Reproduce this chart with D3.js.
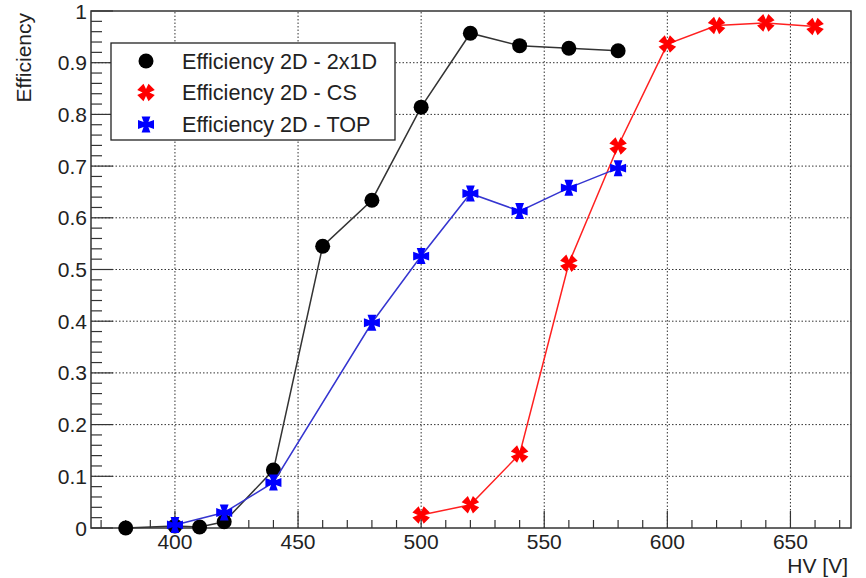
<!DOCTYPE html>
<meta charset="utf-8">
<script src="https://cdn.jsdelivr.net/npm/d3@7"></script>
<style>
body { margin: 0; background: #fff; }
text { font-family: "Liberation Sans", Arial, sans-serif; font-size: 21px; fill: #222; }
.grid line { stroke: #333; stroke-width: 1; stroke-dasharray: 1.5,2; }
.frame { fill: none; stroke: #333; stroke-width: 1.5px; }
.tick { stroke: #333; stroke-width: 1.2px; }
</style>
<body>
<div id="chart"></div>
<script>
// HV points and efficiency for each configuration
var hv2x1D  = [380, 400, 410, 420, 440, 460, 480, 500, 520, 540, 560, 580];
var eff2x1D = [0.0, 0.004, 0.002, 0.012, 0.112, 0.545, 0.634, 0.814, 0.957, 0.933, 0.928, 0.923];

var hvCS  = [500, 520, 540, 560, 580, 600, 620, 640, 660];
var effCS = [0.025, 0.045, 0.143, 0.512, 0.739, 0.936, 0.972, 0.977, 0.970];

var hvTOP  = [400, 420, 440, 480, 500, 520, 540, 560, 580];
var effTOP = [0.006, 0.030, 0.088, 0.397, 0.526, 0.647, 0.613, 0.658, 0.696];

var xTicks = [400, 450, 500, 550, 600, 650];
var yTicks = [0, 0.1, 0.2, 0.3, 0.4, 0.5, 0.6, 0.7, 0.8, 0.9, 1];
var legendLabels = ["Efficiency 2D - 2x1D", "Efficiency 2D - CS", "Efficiency 2D - TOP"];

var width = 866, height = 578;
var margin = {left: 91, right: 15, top: 11, bottom: 50};

var svg = d3.select("#chart").append("svg")
    .attr("width", width)
    .attr("height", height);

var x = d3.scaleLinear().domain([365.9, 674.6]).range([margin.left, width - margin.right]);
var y = d3.scaleLinear().domain([0, 1]).range([height - margin.bottom, margin.top]);

var x0 = x.range()[0], x1 = x.range()[1];
var y0 = y.range()[0], y1 = y.range()[1];

// dotted grid at the major ticks
var grid = svg.append("g").attr("class", "grid");
grid.selectAll("line.gx")
    .data(xTicks)
    .enter().append("line")
    .attr("x1", d => x(d)).attr("x2", d => x(d))
    .attr("y1", y0).attr("y2", y1);
grid.selectAll("line.gy")
    .data(yTicks.filter(d => d > 0 && d < 1))
    .enter().append("line")
    .attr("x1", x0).attr("x2", x1)
    .attr("y1", d => y(d)).attr("y2", d => y(d));

// axis ticks (ROOT style, pointing inside)
var xMinor = d3.range(370, 675, 10);
svg.append("g").selectAll("line")
    .data(xMinor)
    .enter().append("line")
    .attr("class", "tick")
    .attr("x1", d => x(d)).attr("x2", d => x(d))
    .attr("y1", y0)
    .attr("y2", d => y0 - (d % 50 == 0 ? 17 : 8));

var yMinor = d3.range(0, 51).map(i => i * 0.02);
svg.append("g").selectAll("line")
    .data(yMinor)
    .enter().append("line")
    .attr("class", "tick")
    .attr("y1", d => y(d)).attr("y2", d => y(d))
    .attr("x1", x0)
    .attr("x2", (d, i) => x0 + (i % 5 == 0 ? 22 : 11));

svg.append("rect")
    .attr("class", "frame")
    .attr("x", x0).attr("y", y1)
    .attr("width", x1 - x0).attr("height", y0 - y1);

// tick labels
svg.append("g").selectAll("text")
    .data(xTicks)
    .enter().append("text")
    .attr("x", d => x(d))
    .attr("y", 549)
    .attr("text-anchor", "middle")
    .text(d => d);

svg.append("g").selectAll("text")
    .data(yTicks)
    .enter().append("text")
    .attr("x", 87)
    .attr("y", d => y(d) + 7.5)
    .attr("text-anchor", "end")
    .text(d => d3.format("")(d));

// axis titles
svg.append("text")
    .attr("x", 848)
    .attr("y", 573)
    .attr("text-anchor", "end")
    .text("HV [V]");

svg.append("text")
    .attr("transform", "translate(31,13) rotate(-90)")
    .attr("text-anchor", "end")
    .text("Efficiency");

// marker shapes
function crossPath(s) {
    var a = s * 0.3, c = s * 0.55;
    return "M" + (-c) + "," + (-s) + "L" + c + "," + (-s) + "L" + a + "," + (-a) +
        "L" + s + "," + (-c) + "L" + s + "," + c + "L" + a + "," + a +
        "L" + c + "," + s + "L" + (-c) + "," + s + "L" + (-a) + "," + a +
        "L" + (-s) + "," + c + "L" + (-s) + "," + (-c) + "L" + (-a) + "," + (-a) + "Z";
}

var series = [
    {hv: hv2x1D, eff: eff2x1D, line: "#333", color: "#000", marker: "circle"},
    {hv: hvCS, eff: effCS, line: "#ff2020", color: "#ff0000", marker: "x"},
    {hv: hvTOP, eff: effTOP, line: "#3535d0", color: "#0000ff", marker: "plus"}
];

var line = d3.line().x(d => x(d[0])).y(d => y(d[1]));

function drawMarker(g, type, color) {
    if (type == "circle") {
        g.append("circle").attr("r", 7.5).attr("fill", color);
    } else {
        g.append("path")
            .attr("d", crossPath(8))
            .attr("fill", color)
            .attr("transform", type == "x" ? "rotate(45)" : null);
    }
}

series.forEach(function(s) {
    var pts = s.hv.map((h, i) => [h, s.eff[i]]);
    svg.append("path")
        .attr("d", line(pts))
        .attr("fill", "none")
        .attr("stroke", s.line)
        .attr("stroke-width", 1.5);
    svg.append("g").selectAll("g")
        .data(pts)
        .enter().append("g")
        .attr("transform", d => "translate(" + x(d[0]) + "," + y(d[1]) + ")")
        .each(function() { drawMarker(d3.select(this), s.marker, s.color); });
});

// legend
var legend = svg.append("g");
legend.append("rect")
    .attr("x", 111).attr("y", 43)
    .attr("width", 284).attr("height", 97)
    .attr("fill", "#fff")
    .attr("stroke", "#222")
    .attr("stroke-width", 1.3);

var rowY = [61, 92.5, 124.5];
legendLabels.forEach(function(lbl, i) {
    var g = legend.append("g").attr("transform", "translate(146," + rowY[i] + ")");
    drawMarker(g, series[i].marker, series[i].color);
    legend.append("text")
        .attr("x", 182)
        .attr("y", rowY[i] + 7.5)
        .style("font-size", "21.6px")
        .text(lbl);
});
</script>
</body>
